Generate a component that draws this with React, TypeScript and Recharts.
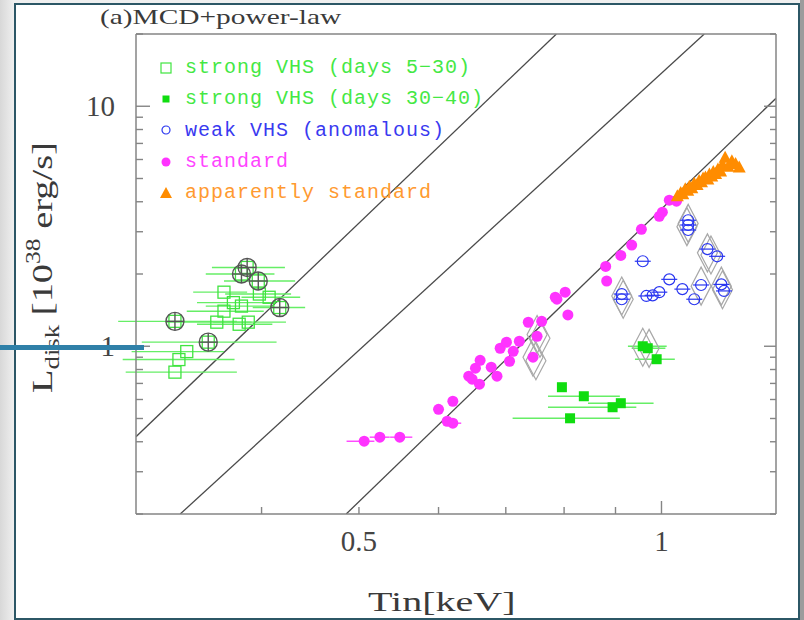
import { ScatterChart, Scatter, XAxis, YAxis, ErrorBar, ReferenceLine, Legend } from "recharts";

const xTicks = [0.4, 0.5, 0.6, 0.7, 0.8, 0.9, 1];
const xTickLabels = [0.5, 1];
const yTicks = [0.2, 0.3, 0.4, 0.5, 0.6, 0.7, 0.8, 0.9, 1, 2, 3, 4, 5, 6, 7, 8, 9, 10, 20];
const yTickLabels = [1, 10];

// t = Tin [keV], l = Ldisk [1e38 erg/s], e = [lower, upper] error on Tin
const vhsEarly = [
  { t: 0.367, l: 1.68, e: [0.025, 0.02] },
  { t: 0.375, l: 1.52, e: [0.03, 0.035] },
  { t: 0.382, l: 1.47, e: [0.03, 0.03] },
  { t: 0.367, l: 1.4, e: [0.03, 0.035] },
  { t: 0.361, l: 1.26, e: [0.04, 0.03] },
  { t: 0.38, l: 1.235, e: [0.035, 0.03] },
  { t: 0.388, l: 1.26, e: [0.03, 0.035] },
  { t: 0.398, l: 1.65, e: [0.03, 0.03] },
  { t: 0.407, l: 1.6, e: [0.025, 0.03] },
  { t: 0.337, l: 0.95, e: [0.04, 0.03] },
  { t: 0.331, l: 0.88, e: [0.04, 0.045] },
  { t: 0.328, l: 0.78, e: [0.035, 0.05] },
  { t: 0.382, l: 2.0, e: [0.03, 0.03] },
  { t: 0.387, l: 2.13, e: [0.03, 0.035] },
  { t: 0.397, l: 1.87, e: [0.03, 0.035] },
  { t: 0.417, l: 1.45, e: [0.025, 0.025] },
  { t: 0.328, l: 1.27, e: [0.04, 0.05] },
  { t: 0.354, l: 1.04, e: [0.05, 0.06] },
];

const vhsLate = [
  { t: 0.796, l: 0.675, e: [0, 0] },
  { t: 0.837, l: 0.619, e: [0.066, 0.072] },
  { t: 0.911, l: 0.579, e: [0.066, 0.071] },
  { t: 0.894, l: 0.557, e: [0.123, 0.05] },
  { t: 0.811, l: 0.501, e: [0.1, 0.098] },
  { t: 0.958, l: 1.0, e: [0.032, 0.054] },
  { t: 0.969, l: 0.981, e: [0.035, 0.04] },
  { t: 0.989, l: 0.883, e: [0.048, 0.042] },
];

const weakVhs = [
  { t: 1.063, l: 3.35 }, { t: 1.063, l: 3.2 }, { t: 1.063, l: 3.05 },
  { t: 0.958, l: 2.26 }, { t: 1.111, l: 2.54 }, { t: 1.136, l: 2.37 },
  { t: 0.913, l: 1.65 }, { t: 0.913, l: 1.57 }, { t: 0.966, l: 1.62 },
  { t: 0.98, l: 1.63 }, { t: 0.995, l: 1.68 }, { t: 1.018, l: 1.9 },
  { t: 1.049, l: 1.73 }, { t: 1.078, l: 1.57 }, { t: 1.095, l: 1.8 },
  { t: 1.147, l: 1.81 }, { t: 1.154, l: 1.7 },
];

const standard = [
  { t: 0.506, l: 0.402, e: [0.02, 0.012] }, { t: 0.5245, l: 0.418, e: [0.012, 0.012] },
  { t: 0.549, l: 0.418, e: [0.012, 0.016] }, { t: 0.6, l: 0.546 }, { t: 0.612, l: 0.487 },
  { t: 0.62, l: 0.478, e: [0.005, 0.012] }, { t: 0.62, l: 0.59 }, { t: 0.643, l: 0.75 },
  { t: 0.653, l: 0.81 }, { t: 0.648, l: 0.729 }, { t: 0.66, l: 0.874 }, { t: 0.659, l: 0.695 },
  { t: 0.677, l: 0.818 }, { t: 0.686, l: 0.75 }, { t: 0.691, l: 0.981 }, { t: 0.701, l: 1.039 },
  { t: 0.706, l: 0.866 }, { t: 0.712, l: 0.953 }, { t: 0.722, l: 1.049 }, { t: 0.737, l: 1.259 },
  { t: 0.752, l: 1.1 }, { t: 0.76, l: 1.27 }, { t: 0.745, l: 0.9 }, { t: 0.787, l: 1.57 },
  { t: 0.802, l: 1.68 }, { t: 0.784, l: 1.6 }, { t: 0.807, l: 1.35 }, { t: 0.882, l: 1.87 },
  { t: 0.88, l: 2.15 }, { t: 0.911, l: 2.39 }, { t: 0.934, l: 2.64 }, { t: 0.955, l: 3.07 },
  { t: 0.995, l: 3.48 }, { t: 1.002, l: 3.62 }, { t: 1.018, l: 4.06 }, { t: 1.035, l: 4.02 },
];

const apparent = [
  { t: 1.037, l: 4.22 }, { t: 1.045, l: 4.35 }, { t: 1.05, l: 4.3 }, { t: 1.056, l: 4.51 },
  { t: 1.062, l: 4.45 }, { t: 1.066, l: 4.62 }, { t: 1.072, l: 4.55 }, { t: 1.078, l: 4.75 },
  { t: 1.085, l: 4.7 }, { t: 1.09, l: 4.88 }, { t: 1.096, l: 4.82 }, { t: 1.1, l: 5.0 },
  { t: 1.106, l: 5.05 }, { t: 1.112, l: 4.95 }, { t: 1.116, l: 5.2 }, { t: 1.122, l: 5.1 },
  { t: 1.126, l: 5.32 }, { t: 1.132, l: 5.22 }, { t: 1.138, l: 5.45 }, { t: 1.145, l: 5.35 },
  { t: 1.15, l: 5.7 }, { t: 1.157, l: 6.1 }, { t: 1.165, l: 5.6 }, { t: 1.175, l: 5.9 },
  { t: 1.185, l: 5.75 }, { t: 1.195, l: 5.55 },
];

const circled = [
  { t: 0.328, l: 1.27 }, { t: 0.354, l: 1.04 }, { t: 0.382, l: 2.0 },
  { t: 0.387, l: 2.13 }, { t: 0.397, l: 1.87 }, { t: 0.417, l: 1.45 },
];

const diamonds = [
  { t: 1.063, l: 3.25 }, { t: 1.06, l: 3.15 }, { t: 1.111, l: 2.45 }, { t: 1.12, l: 2.4 },
  { t: 0.913, l: 1.62 }, { t: 0.916, l: 1.57 }, { t: 1.095, l: 1.78 }, { t: 1.147, l: 1.78 },
  { t: 1.15, l: 1.72 }, { t: 0.752, l: 1.12 }, { t: 0.757, l: 1.08 }, { t: 0.745, l: 0.9 },
  { t: 0.75, l: 0.87 }, { t: 0.958, l: 0.99 }, { t: 0.972, l: 0.98 },
];

// L ~ T^4 reference lines, given by their end points
const modelLines = [
  [{ x: 0.3, y: 0.42 }, { x: 0.786, y: 20 }],
  [{ x: 0.332, y: 0.2 }, { x: 1.103, y: 20 }],
  [{ x: 0.4856, y: 0.2 }, { x: 1.3, y: 10.8 }],
];

const GREEN = "#3fe43f";
const GREEN_FILL = "#10dd10";
const BLUE = "#2a36f0";
const MAGENTA = "#ff33ff";
const ORANGE = "#ff8c00";
const FRAME = "#858585";
const serif = "'Liberation Serif', 'DejaVu Serif', serif";
const mono = "'Liberation Mono', 'DejaVu Sans Mono', monospace";

const OpenSquare = (p: any) => (
  <rect x={p.cx - 6} y={p.cy - 6} width={12} height={12} fill="none" stroke={GREEN} strokeWidth={1.3} />
);
const FilledSquare = (p: any) => <rect x={p.cx - 5} y={p.cy - 5} width={10} height={10} fill={GREEN_FILL} />;
const CrossCircle = (p: any) => (
  <g stroke="#555" strokeWidth={1.4} fill="none">
    <circle cx={p.cx} cy={p.cy} r={9} />
    <line x1={p.cx - 9} x2={p.cx + 9} y1={p.cy} y2={p.cy} />
    <line x1={p.cx} x2={p.cx} y1={p.cy - 9} y2={p.cy + 9} />
  </g>
);
const BlueCircle = (p: any) => (
  <g stroke={BLUE} strokeWidth={1.2} fill="none">
    <circle cx={p.cx} cy={p.cy} r={5.5} />
    <line x1={p.cx - 8} x2={p.cx + 8} y1={p.cy} y2={p.cy} />
  </g>
);
const Dot = (p: any) => <circle cx={p.cx} cy={p.cy} r={5.5} fill={MAGENTA} />;
const Triangle = (p: any) => (
  <polygon points={`${p.cx},${p.cy - 7} ${p.cx - 6.5},${p.cy + 5} ${p.cx + 6.5},${p.cy + 5}`} fill={ORANGE} />
);
const Diamond = (p: any) => (
  <polygon
    points={`${p.cx},${p.cy - 19} ${p.cx + 10},${p.cy} ${p.cx},${p.cy + 19} ${p.cx - 10},${p.cy}`}
    fill="none"
    stroke="#a8a8a8"
    strokeWidth={1.2}
  />
);

const BottomTick = (p: any) => {
  const v = p.payload.value;
  return (
    <g>
      <line x1={p.x} x2={p.x} y1={p.y} y2={p.y - (v === 1 ? 13 : 7)} stroke={FRAME} strokeWidth={1.4} />
      {xTickLabels.includes(v) && (
        <text x={p.x} y={p.y + 37} textAnchor="middle" fontSize={29} fontFamily={serif} fill="#444">
          {v}
        </text>
      )}
    </g>
  );
};
const TopTick = (p: any) => (
  <line x1={p.x} x2={p.x} y1={p.y} y2={p.y + (p.payload.value === 1 ? 9 : 5)} stroke={FRAME} strokeWidth={1.4} />
);
const LeftTick = (p: any) => {
  const v = p.payload.value;
  const major = yTickLabels.includes(v);
  return (
    <g>
      <line x1={p.x} x2={p.x + (major ? 14 : 7)} y1={p.y} y2={p.y} stroke={FRAME} strokeWidth={1.4} />
      {major && (
        <text x={p.x - 21} y={p.y + 10} textAnchor="end" fontSize={29} fontFamily={serif} fill="#444">
          {v}
        </text>
      )}
    </g>
  );
};
const RightTick = (p: any) => {
  const major = yTickLabels.includes(p.payload.value);
  return <line x1={p.x} x2={p.x - (major ? 12 : 6)} y1={p.y} y2={p.y} stroke={FRAME} strokeWidth={1.4} />;
};

const legendRows = [
  { name: "strong VHS (days 5−30)", color: "#44e844", symbol: <rect x={4} y={4} width={10} height={10} fill="none" stroke={GREEN} strokeWidth={1.2} /> },
  { name: "strong VHS (days 30−40)", color: "#44e844", symbol: <rect x={5.5} y={5.5} width={7} height={7} fill={GREEN_FILL} /> },
  { name: "weak VHS (anomalous)", color: "#3a3af0", symbol: <circle cx={9} cy={9} r={4} fill="none" stroke={BLUE} strokeWidth={1.2} /> },
  { name: "standard", color: "#ff44ff", symbol: <circle cx={9} cy={9} r={4.5} fill={MAGENTA} /> },
  { name: "apparently standard", color: "#ff9a30", symbol: <polygon points="9,3 3,14 15,14" fill={ORANGE} /> },
];

const LegendBox = () => (
  <div style={{ fontFamily: mono, fontSize: 20, letterSpacing: 1 }}>
    {legendRows.map((r) => (
      <div key={r.name} style={{ display: "flex", alignItems: "center", height: 31.3, color: r.color }}>
        <svg width={18} height={18}>{r.symbol}</svg>
        <span style={{ marginLeft: 10, whiteSpace: "pre" }}>{r.name}</span>
      </div>
    ))}
  </div>
);

const axisLine = { stroke: FRAME, strokeWidth: 1.5 };

export default function App() {
  return (
    <div style={{ position: "absolute", left: 0, top: 0, width: 804, height: 620, overflow: "hidden", background: "linear-gradient(90deg, #d8d8d8, #efefef 14px)" }}>
      <div style={{ position: "absolute", left: 14, top: 3, width: 786, height: 617, background: "#fff", border: "2px solid #2c5766", boxSizing: "border-box" }} />
      <div style={{ position: "absolute", left: 800, top: 0, width: 4, height: 620, background: "#9c9c9c" }} />
      <div style={{ position: "absolute", left: 0, top: 0 }}>
        <ScatterChart width={804} height={620} margin={{ top: 4, right: 8, bottom: 76, left: 76 }}>
          <XAxis xAxisId="b" dataKey="t" type="number" scale="log" domain={[0.3, 1.3]} allowDataOverflow ticks={xTicks} interval={0} tickSize={0} tickMargin={0} height={30} axisLine={axisLine} tick={(p: any) => <BottomTick {...p} />} />
          <XAxis xAxisId="t" orientation="top" type="number" scale="log" domain={[0.3, 1.3]} allowDataOverflow ticks={xTicks} interval={0} tickSize={0} tickMargin={0} height={30} axisLine={axisLine} tick={(p: any) => <TopTick {...p} />} />
          <YAxis yAxisId="l" dataKey="l" type="number" scale="log" domain={[0.2, 20]} allowDataOverflow ticks={yTicks} interval={0} tickSize={0} tickMargin={0} width={60} axisLine={axisLine} tick={(p: any) => <LeftTick {...p} />} />
          <YAxis yAxisId="r" orientation="right" type="number" scale="log" domain={[0.2, 20]} allowDataOverflow ticks={yTicks} interval={0} tickSize={0} tickMargin={0} width={20} axisLine={axisLine} tick={(p: any) => <RightTick {...p} />} />

          {modelLines.map((seg, i) => (
            <ReferenceLine key={i} xAxisId="b" yAxisId="l" segment={seg} stroke="#4a4a4a" strokeWidth={1.3} ifOverflow="hidden" />
          ))}

          <Scatter name="diamonds" data={diamonds} xAxisId="b" yAxisId="l" shape={Diamond} legendType="none" isAnimationActive={false} />
          <Scatter name="strong VHS (days 5−30)" data={vhsEarly} xAxisId="b" yAxisId="l" fill={GREEN} shape={OpenSquare} isAnimationActive={false}>
            <ErrorBar dataKey="e" direction="x" width={0} stroke="#66ee66" strokeWidth={1.4} />
          </Scatter>
          <Scatter name="circled" data={circled} xAxisId="b" yAxisId="l" shape={CrossCircle} legendType="none" isAnimationActive={false} />
          <Scatter name="strong VHS (days 30−40)" data={vhsLate} xAxisId="b" yAxisId="l" fill={GREEN_FILL} shape={FilledSquare} isAnimationActive={false}>
            <ErrorBar dataKey="e" direction="x" width={0} stroke="#66ee66" strokeWidth={1.4} />
          </Scatter>
          <Scatter name="weak VHS (anomalous)" data={weakVhs} xAxisId="b" yAxisId="l" fill={BLUE} shape={BlueCircle} isAnimationActive={false} />
          <Scatter name="standard" data={standard} xAxisId="b" yAxisId="l" fill={MAGENTA} shape={Dot} isAnimationActive={false}>
            <ErrorBar dataKey={(d: any) => d.e ?? [0, 0]} direction="x" width={0} stroke={MAGENTA} strokeWidth={1.3} />
          </Scatter>
          <Scatter name="apparently standard" data={apparent} xAxisId="b" yAxisId="l" fill={ORANGE} shape={Triangle} isAnimationActive={false} />

          <Legend layout="vertical" align="center" verticalAlign="middle" content={() => <LegendBox />} wrapperStyle={{ left: 157, top: 52, width: "auto", height: "auto" }} />
        </ScatterChart>
      </div>
      <svg width={804} height={620} style={{ position: "absolute", left: 0, top: 0, pointerEvents: "none" }}>
        <text transform="translate(100,24) scale(1.4,1)" fontFamily={serif} fontSize={21} fill="#3a3a3a">(a)MCD+power-law</text>
        <text transform="translate(368,611) scale(1.43,1)" fontFamily={serif} fontSize={28} fill="#3a3a3a">Tin[keV]</text>
        <text transform="translate(52,393) rotate(-90) scale(1.28,1)" fontFamily={serif} fontSize={30} fill="#3a3a3a">
          L<tspan fontSize={21} dy={7}>disk</tspan>
          <tspan dy={-7}> [10</tspan>
          <tspan fontSize={20} dy={-12}>38</tspan>
          <tspan dy={12}> erg/s]</tspan>
        </text>
      </svg>
      <div style={{ position: "absolute", left: 0, top: 345, width: 144, height: 5, background: "#2f80a8" }} />
    </div>
  );
}
